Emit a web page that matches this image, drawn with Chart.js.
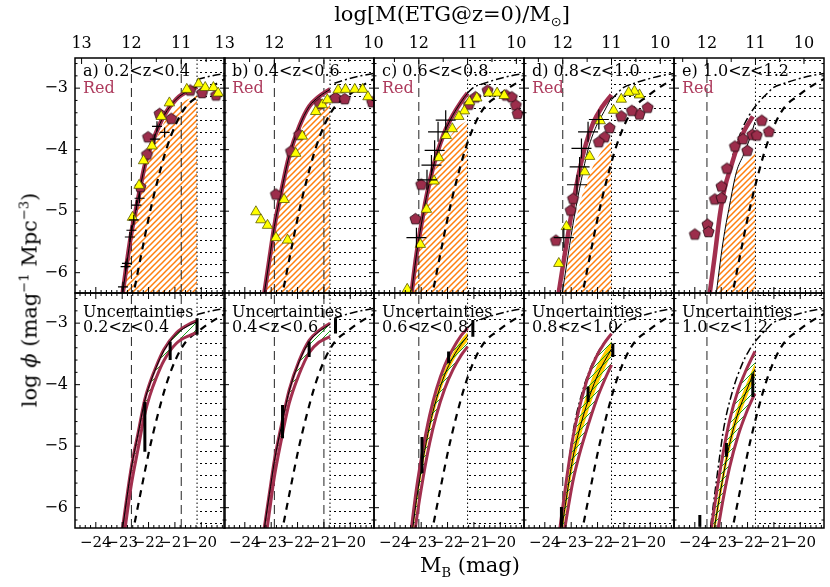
<!DOCTYPE html>
<html>
<head>
<meta charset="utf-8">
<script src="https://cdn.jsdelivr.net/npm/chart.js@4.4.1/dist/chart.umd.min.js"></script>
<style>
  body { margin: 0; background: #fff; width: 830px; height: 587px; position: relative; overflow: hidden; font-family: "DejaVu Serif", serif; }
  canvas { position: absolute; }
  .t { position: absolute; white-space: nowrap; color: #000; line-height: 1; font-family: "DejaVu Serif", serif; }
</style>
</head>
<body>
<script>
// ---- data (M_B in mag, log phi) ----
const magTicks = [-24, -23, -22, -21, -20];
const phiTicks = [-3, -4, -5, -6];
const massTicks = [13, 12, 11, 10];
const letters = ['a)', 'b)', 'c)', 'd)', 'e)'];
const zLabels = ['0.2<z<0.4', '0.4<z<0.6', '0.6<z<0.8', '0.8<z<1.0', '1.0<z<1.2'];

// M_B where log M(ETG@z=0) = 12 and 11, and start of the incomplete (dotted) zone
const m12 = [-22.65, -22.88, -23.09, -23.32, -23.54];
const m11 = [-20.76, -21.00, -21.24, -21.47, -21.70];
const cut = [-20.16, -20.77, -21.24, -21.47, -21.70];

// local reference LF (thick short dashes) and bright reference (dash-dot), same in every panel
const localX = [-22.62, -22.27, -21.96, -21.65, -21.33, -20.95, -20.58, -20.14, -19.70, -19.10];
const localY = [-6.45, -5.69, -5.04, -4.49, -4.00, -3.57, -3.30, -3.14, -3.00, -2.85];
const brightX = [-23.40, -23.10, -22.90, -22.56, -22.19, -21.95, -21.73, -21.47, -21.24, -21.05, -20.60, -20.16, -19.60, -19.10];
const brightY = [-6.30, -5.30, -4.70, -4.09, -3.65, -3.45, -3.31, -3.18, -3.08, -3.00, -2.92, -2.86, -2.80, -2.76];
const brightFromTop = [-20.16, -20.77, -21.24, -21.47, -22.70];
const brightFromBot = [-20.16, -20.77, -21.24, -24.80, -24.80];

// red-sequence fit (thick maroon)
const fitX = [
  [-23.02, -22.65, -22.40, -22.15, -21.96, -21.71, -21.42, -20.95, -20.39, -20.16],
  [-23.30, -23.07, -22.88, -22.63, -22.32, -21.94, -21.56, -21.19, -20.77],
  [-23.40, -23.18, -22.93, -22.68, -22.42, -22.11, -21.80, -21.48, -21.24],
  [-23.52, -23.24, -22.99, -22.74, -22.45, -22.15, -21.85, -21.47],
  [-23.47, -23.24, -23.05, -22.87, -22.61, -22.36, -22.11, -21.80]
];
const fitY = [
  [-6.45, -5.35, -4.81, -4.27, -4.00, -3.72, -3.45, -3.18, -3.02, -2.98],
  [-6.45, -5.79, -5.25, -4.71, -4.11, -3.63, -3.30, -3.14, -3.02],
  [-6.45, -5.71, -5.06, -4.52, -4.09, -3.71, -3.44, -3.22, -3.08],
  [-6.45, -5.69, -5.04, -4.45, -3.92, -3.55, -3.32, -3.11],
  [-6.45, -5.71, -5.06, -4.63, -4.25, -3.92, -3.68, -3.46]
];
// thin black model line
const thinX = [fitX[0], fitX[1], fitX[2],
  [-23.38, -23.12, -22.88, -22.62, -22.35, -22.05, -21.75, -21.47],
  [-23.22, -22.93, -22.68, -22.42, -22.15, -21.90, -21.72]];
const thinY = [fitY[0], fitY[1], fitY[2],
  [-6.45, -5.72, -5.08, -4.50, -3.98, -3.62, -3.38, -3.15],
  [-6.45, -5.50, -4.90, -4.36, -4.08, -3.80, -3.55]];
// top of the orange hatched area
const hatchX = [
  [-22.98, -22.61, -22.36, -22.11, -21.92, -21.67, -21.38, -20.91, -20.40, -20.16],
  [-23.26, -23.03, -22.84, -22.59, -22.28, -21.90, -21.50, -21.10, -20.77],
  [-23.36, -23.12, -22.88, -22.62, -22.35, -22.00, -21.65, -21.24],
  [-23.36, -22.93, -22.48, -21.97, -21.47],
  [-23.22, -22.93, -22.68, -22.42, -22.10, -21.70]
];
const hatchY = [
  [-6.45, -5.38, -4.85, -4.32, -4.06, -3.79, -3.54, -3.28, -3.16, -3.12],
  [-6.45, -5.80, -5.28, -4.76, -4.18, -3.72, -3.42, -3.25, -3.17],
  [-6.45, -5.70, -5.06, -4.55, -4.15, -3.85, -3.65, -3.52],
  [-6.45, -5.36, -4.60, -4.11, -3.84],
  [-6.45, -5.50, -4.90, -4.36, -4.20, -4.05]
];

// yellow triangles
const triX = [
  [-20.10, -19.85, -19.54, -19.36, -20.55, -21.21, -21.52, -21.87, -22.19, -22.36, -22.61],
  [-23.58, -23.39, -23.14, -22.82, -22.38, -22.51, -22.07, -21.82, -21.31, -21.06, -20.87, -20.46, -20.18, -19.83, -19.53, -19.33],
  [-20.44, -20.12, -19.85, -20.89, -21.17, -21.36, -21.57, -21.82, -22.05, -22.33, -22.51, -22.80, -23.03, -23.53],
  [-20.41, -20.60, -20.82, -21.10, -21.39, -21.90, -22.30, -22.49, -23.18, -23.47],
  []
];
const triY = [
  [-2.93, -2.99, -2.99, -3.08, -3.02, -3.24, -3.46, -3.94, -4.18, -4.58, -5.10],
  [-5.01, -5.14, -5.23, -5.43, -5.47, -4.81, -4.06, -3.78, -3.38, -3.27, -3.19, -3.03, -3.02, -3.02, -3.02, -3.14],
  [-3.08, -3.08, -3.12, -3.16, -3.22, -3.37, -3.46, -3.66, -3.77, -4.13, -4.51, -4.97, -5.54, -6.27],
  [-3.11, -3.05, -3.07, -3.18, -3.36, -3.53, -4.11, -4.36, -5.25, -5.85],
  []
];
// maroon pentagons
const penX = [
  [-21.58, -21.14, -22.02, -22.06, -22.31, -19.44, -19.97, -20.42],
  [-22.82, -22.25, -21.94, -21.16, -20.56, -20.21, -19.17],
  [-20.48, -19.78, -19.56, -19.41, -19.34, -20.94, -21.19, -23.00, -23.22],
  [-20.10, -20.41, -20.70, -21.10, -21.54, -21.73, -21.95, -22.93, -23.02, -23.58],
  [-24.00, -23.52, -23.48, -23.24, -22.99, -22.99, -22.78, -22.48, -22.17, -22.01, -21.82, -21.65, -21.46, -21.19]
];
const penY = [
  [-3.41, -3.49, -3.79, -4.07, -4.60, -3.11, -3.07, -3.03],
  [-4.72, -4.02, -3.75, -3.25, -3.15, -3.17, -3.22],
  [-3.03, -3.11, -3.14, -3.27, -3.41, -3.14, -3.26, -4.56, -5.12],
  [-3.31, -3.42, -3.36, -3.45, -3.64, -3.79, -3.87, -4.79, -4.98, -5.47],
  [-5.37, -5.21, -5.33, -4.80, -4.78, -4.59, -4.30, -3.94, -3.82, -4.01, -3.75, -3.76, -3.52, -3.70]
];
// black crosses
const crsX = [
  [-21.68, -21.39, -21.76, -22.34, -22.46, -22.56, -22.65, -22.71, -22.82, -22.87, -22.97],
  [],
  [-22.07, -22.36, -22.49, -22.61, -22.78, -23.18],
  [-21.95, -22.36, -22.61, -22.68, -22.78, -23.28],
  []
];
const crsY = [
  [-3.62, -3.72, -3.83, -4.79, -4.90, -5.14, -5.31, -5.42, -5.85, -5.90, -6.23],
  [],
  [-3.52, -3.71, -4.01, -4.25, -4.49, -5.43],
  [-3.51, -3.71, -3.98, -4.28, -4.57, -5.43],
  []
];

// uncertainty panels: envelope (maroon), best fit (black), yellow core
const bandX = [
  [-23.02, -22.65, -22.40, -22.15, -21.96, -21.71, -21.42, -20.95, -20.39, -20.16],
  [-23.30, -23.07, -22.88, -22.63, -22.32, -21.94, -21.56, -21.19, -20.77],
  [-23.40, -23.18, -22.93, -22.68, -22.42, -22.11, -21.80, -21.48, -21.24],
  [-23.45, -23.18, -22.93, -22.68, -22.36, -22.05, -21.75, -21.47],
  [-23.45, -23.18, -22.93, -22.68, -22.36, -22.05, -21.72]
];
const upY = [
  [-6.43, -5.33, -4.79, -4.25, -3.98, -3.70, -3.43, -3.16, -3.00, -2.96],
  [-6.43, -5.77, -5.23, -4.69, -4.09, -3.61, -3.28, -3.12, -3.00],
  [-6.43, -5.69, -5.04, -4.50, -4.07, -3.69, -3.42, -3.20, -3.08],
  [-6.40, -5.55, -4.85, -4.36, -3.87, -3.55, -3.33, -3.17],
  [-6.55, -5.77, -5.12, -4.58, -4.09, -3.76, -3.46]
];
const loY = [
  [-6.75, -5.62, -5.05, -4.49, -4.19, -3.89, -3.61, -3.33, -3.19, -3.15],
  [-6.80, -6.08, -5.50, -4.93, -4.31, -3.83, -3.48, -3.31, -3.22],
  [-6.95, -6.20, -5.52, -4.95, -4.49, -4.07, -3.76, -3.52, -3.38],
  [-6.90, -6.17, -5.56, -5.12, -4.66, -4.26, -3.94, -3.68],
  [-7.20, -6.50, -5.87, -5.34, -4.83, -4.46, -4.14]
];
const midY = [
  [-6.45, -5.35, -4.81, -4.27, -4.00, -3.72, -3.45, -3.18, -3.02, -2.98],
  [-6.45, -5.79, -5.25, -4.71, -4.11, -3.63, -3.30, -3.14, -3.02],
  [-6.60, -5.88, -5.22, -4.67, -4.23, -3.84, -3.56, -3.34, -3.21],
  [-6.62, -5.84, -5.18, -4.72, -4.26, -3.90, -3.63, -3.42],
  [-6.85, -6.12, -5.50, -4.96, -4.46, -4.11, -3.75]
];
const yelHiY = [
  [], [],
  [-6.50, -5.78, -5.12, -4.57, -4.14, -3.76, -3.49, -3.27, -3.15],
  [-6.50, -5.70, -5.02, -4.55, -4.08, -3.72, -3.47, -3.29],
  [-6.75, -6.00, -5.38, -4.84, -4.34, -3.99, -3.65]
];
const yelLoY = [
  [], [],
  [-6.70, -5.98, -5.32, -4.76, -4.32, -3.92, -3.63, -3.42, -3.29],
  [-6.75, -5.98, -5.34, -4.90, -4.44, -4.06, -3.76, -3.50],
  [-6.95, -6.25, -5.62, -5.08, -4.58, -4.23, -3.86]
];
// thick black error segments
const ebX = [[-22.14, -21.18, -20.16], [-22.57, -21.56, -20.56], [-22.97, -21.96, -21.04], [-23.37, -22.36, -21.42], [-23.81, -22.80, -21.80]];
const ebLo = [[-5.09, -3.60, -3.19], [-4.87, -3.55, -3.17], [-5.44, -3.65, -3.22], [-6.31, -4.28, -3.55], [-6.31, -5.17, -4.20]];
const ebHi = [[-4.28, -3.30, -2.92], [-4.33, -3.30, -2.92], [-4.85, -3.46, -2.95], [-5.99, -4.03, -3.33], [-6.12, -4.95, -3.82]];

// ---- layout ----
const M = 40, PW = 150, PH = 235;
const panelLeft = [75, 224, 374, 524, 674];
const rowTop = [58, 293];
const xMin = -24.79, xMax = -19.1, yMin = -6.33, yMax = -2.51;
const maroon = '#a22f4e';
const crsR = [5, 5, 10, 10, 10];
const serif = "'DejaVu Serif', serif";

Chart.defaults.font.family = serif;
Chart.defaults.color = '#000';

function P(xs, ys) { return xs.map((x, i) => ({ x: x, y: ys[i] })); }
function vline(x) { return [{ x: x, y: yMin }, { x: x, y: yMax }]; }
const fmt = v => (v < 0 ? '\u2212' : '') + Math.abs(v);

function hatch(color, gap, lw) {
  const c = document.createElement('canvas');
  c.width = c.height = gap;
  const g = c.getContext('2d');
  g.strokeStyle = color; g.lineWidth = lw;
  g.beginPath();
  g.moveTo(0, gap); g.lineTo(gap, 0);
  g.moveTo(-2, 2); g.lineTo(2, -2);
  g.moveTo(gap - 2, gap + 2); g.lineTo(gap + 2, gap - 2);
  g.stroke();
  return g.createPattern(c, 'repeat');
}
function dots() {
  const c = document.createElement('canvas');
  c.width = 5; c.height = 12;
  const g = c.getContext('2d');
  g.fillStyle = '#000';
  g.fillRect(0, 6, 2, 1);
  return g.createPattern(c, 'repeat');
}
function pentagon(fill, r) {
  const c = document.createElement('canvas');
  const s = Math.ceil(2 * r + 3);
  c.width = c.height = s;
  const g = c.getContext('2d');
  g.beginPath();
  for (let k = 0; k < 5; k++) {
    const a = -Math.PI / 2 + k * 2 * Math.PI / 5;
    const px = s / 2 + r * Math.cos(a), py = s / 2 + 0.6 + r * Math.sin(a);
    if (k) g.lineTo(px, py); else g.moveTo(px, py);
  }
  g.closePath();
  g.fillStyle = fill; g.fill();
  g.lineWidth = 0.9; g.strokeStyle = '#2b0a14'; g.stroke();
  return c;
}
const orange = hatch('#ff7f0e', 6, 1.5);
const green = hatch('#17a01a', 7, 1);
const dotted = dots();
const pent = pentagon('#9c2d4b', 5.8);

function curve(xs, ys, color, w, order, dash) {
  return { data: P(xs, ys), borderColor: color, borderWidth: w, borderDash: dash || [],
    cubicInterpolationMode: 'monotone', fill: false, order: order, pointRadius: 0 };
}

// frame with inward ticks, like the original plot
const frameTicks = {
  id: 'frameTicks',
  afterDatasetsDraw(chart, args, o) {
    const ctx = chart.ctx, a = chart.chartArea;
    const sx = chart.scales.x, sy = chart.scales.y;
    ctx.save();
    ctx.strokeStyle = '#000';
    ctx.lineWidth = 1;
    ctx.beginPath();
    for (let k = Math.ceil(sx.min * 5); k <= Math.floor(sx.max * 5); k++) {
      const px = sx.getPixelForValue(k / 5), len = (k % 5 === 0) ? 6 : 3;
      ctx.moveTo(px, a.bottom); ctx.lineTo(px, a.bottom - len);
      if (!o.mass) { ctx.moveTo(px, a.top); ctx.lineTo(px, a.top + len); }
    }
    if (o.mass) {
      for (let k = 19; k <= 27; k++) {
        const v = o.m12 + (12 - k / 2) * (o.m11 - o.m12);
        if (v < sx.min || v > sx.max) continue;
        const px = sx.getPixelForValue(v), len = (k % 2 === 0) ? 6 : 4;
        ctx.moveTo(px, a.top); ctx.lineTo(px, a.top + len);
      }
    }
    for (let k = Math.ceil(sy.min * 5); k <= Math.floor(sy.max * 5); k++) {
      const py = sy.getPixelForValue(k / 5), len = (k % 5 === 0) ? 5 : 2.5;
      ctx.moveTo(a.left, py); ctx.lineTo(a.left + len, py);
      ctx.moveTo(a.right, py); ctx.lineTo(a.right - len, py);
    }
    ctx.stroke();
    ctx.lineWidth = 1.5;
    ctx.strokeRect(a.left, a.top, a.width, a.height);
    ctx.restore();
  }
};

function commonLines(ds, row, p) {
  ds.push(curve(localX, localY, '#000', 2.2, 5, [7, 6]));
  const from = row === 0 ? brightFromTop[p] : brightFromBot[p];
  const bp = P(brightX, brightY).filter(pt => pt.x >= from);
  ds.push({ data: bp, borderColor: '#000', borderWidth: 1.5, borderDash: [8, 3, 2, 3],
    cubicInterpolationMode: 'monotone', pointRadius: 0, order: 5 });
  ds.push({ data: vline(m12[p]), borderColor: '#222', borderWidth: 1, borderDash: [9, 5], pointRadius: 0, order: 6 });
  if (m11[p] !== cut[p]) {
    ds.push({ data: vline(m11[p]), borderColor: '#222', borderWidth: 1, borderDash: [9, 5], pointRadius: 0, order: 6 });
  }
  ds.push({ data: vline(cut[p]), borderColor: '#000', borderWidth: 1, borderDash: [1.5, 2.5], pointRadius: 0, order: 6 });
  ds.push({ data: [{ x: cut[p], y: yMax }, { x: xMax, y: yMax }], fill: 'start', backgroundColor: dotted,
    borderWidth: 0, pointRadius: 0, order: 9 });
}

function makeChart(row, p) {
  const cv = document.createElement('canvas');
  const W = PW + 2 * M, H = PH + 2 * M;
  cv.width = W; cv.height = H;
  cv.style.left = (panelLeft[p] - M) + 'px';
  cv.style.top = (rowTop[row] - M) + 'px';
  cv.style.width = W + 'px'; cv.style.height = H + 'px';
  document.body.appendChild(cv);

  const ds = [];
  if (row === 0) {
    ds.push({ data: P(crsX[p], crsY[p]), showLine: false, pointStyle: 'cross', pointRadius: crsR[p],
      borderColor: '#000', borderWidth: 1.2, order: 0 });
    ds.push({ data: P(triX[p], triY[p]), showLine: false, pointStyle: 'triangle', pointRadius: 6,
      backgroundColor: '#ffff00', borderColor: '#5a5a00', borderWidth: 0.8, order: 1 });
    ds.push({ data: P(penX[p], penY[p]), showLine: false, pointStyle: pent, pointRadius: 6, order: 2 });
    ds.push(curve(thinX[p], thinY[p], '#000', 1, 3));
    ds.push(curve(fitX[p], fitY[p], maroon, 4.5, 4));
    ds.push(Object.assign(curve(hatchX[p], hatchY[p], 'rgba(0,0,0,0)', 0, 8), { fill: 'start', backgroundColor: orange }));
  } else {
    const seg = [];
    ebX[p].forEach((x, i) => { seg.push({ x: x, y: ebLo[p][i] }, { x: x, y: ebHi[p][i] }, { x: x, y: null }); });
    ds.push({ data: seg, borderColor: '#000', borderWidth: 3, pointRadius: 0, spanGaps: false, order: 0 });
    ds.push(curve(bandX[p], midY[p], '#000', 1, 2));
    ds.push(curve(bandX[p], upY[p], maroon, 3, 3));
    ds.push(curve(bandX[p], loY[p], maroon, 3, 3));
    ds.push(Object.assign(curve(bandX[p], upY[p], 'rgba(0,0,0,0)', 0, 6), { fill: '+1', backgroundColor: green }));
    ds.push(curve(bandX[p], loY[p], 'rgba(0,0,0,0)', 0, 6));
    if (yelHiY[p].length) {
      ds.push(Object.assign(curve(bandX[p], yelHiY[p], 'rgba(0,0,0,0)', 0, 7), { fill: '+1', backgroundColor: '#ffcc00' }));
      ds.push(curve(bandX[p], yelLoY[p], 'rgba(0,0,0,0)', 0, 7));
    }
  }
  commonLines(ds, row, p);

  new Chart(cv, {
    type: 'line',
    data: { datasets: ds },
    options: {
      responsive: false, animation: false, devicePixelRatio: 1,
      layout: { padding: { left: 0, right: M, top: 0, bottom: 0 } },
      plugins: { legend: { display: false }, tooltip: { enabled: false },
        frameTicks: { mass: row === 0, m12: m12[p], m11: m11[p] } },
      elements: { point: { radius: 0 }, line: { tension: 0 } },
      scales: {
        x: {
          type: 'linear', position: 'bottom', min: xMin, max: xMax,
          grid: { display: false, drawTicks: false }, border: { display: false },
          afterBuildTicks: s => { s.ticks = magTicks.map(v => ({ value: v })); },
          afterFit: s => { s.height = M; },
          ticks: { display: row === 1, padding: 6, autoSkip: false, maxRotation: 0,
            font: { family: serif, size: 15 }, callback: v => fmt(v) }
        },
        xt: {
          type: 'linear', position: 'top', min: xMin, max: xMax,
          grid: { display: false, drawTicks: false }, border: { display: false },
          afterBuildTicks: s => {
            s.ticks = massTicks.map(m => ({ value: m12[p] + (12 - m) * (m11[p] - m12[p]), mass: m }))
              .filter(t => t.value >= xMin && t.value <= xMax);
          },
          afterFit: s => { s.height = M; },
          ticks: { display: row === 0, padding: 5, autoSkip: false, maxRotation: 0,
            font: { family: serif, size: 16 }, callback: (v, i, ticks) => String(ticks[i].mass) }
        },
        y: {
          type: 'linear', position: 'left', min: yMin, max: yMax,
          grid: { display: false, drawTicks: false }, border: { display: false },
          afterBuildTicks: s => { s.ticks = phiTicks.map(v => ({ value: v })); },
          afterFit: s => { s.width = M; },
          ticks: { display: p === 0, padding: 7, autoSkip: false,
            font: { family: serif, size: 16 }, callback: v => fmt(v) }
        }
      }
    },
    plugins: [frameTicks]
  });
}

for (let row = 0; row < 2; row++) {
  for (let p = 0; p < 5; p++) makeChart(row, p);
}

// ---- text ----
function label(html, left, top, style) {
  const d = document.createElement('div');
  d.className = 't';
  d.innerHTML = html;
  d.style.left = left + 'px';
  d.style.top = top + 'px';
  if (style) d.style.cssText += style;
  document.body.appendChild(d);
  return d;
}
const esc = s => s.replace(/</g, '&lt;');
for (let p = 0; p < 5; p++) {
  label(letters[p] + ' ' + esc(zLabels[p]), panelLeft[p] + 8, 63, 'font-size:16px;');
  label('Red', panelLeft[p] + 8, 80, 'font-size:16px;color:#ad3a5c;');
  label('Uncertainties', panelLeft[p] + 8, 304, 'font-size:16px;');
  label(esc(zLabels[p]), panelLeft[p] + 8, 319, 'font-size:16px;');
}
label('log[M(ETG@z=0)/M<sub style="font-size:13px;font-family:\'DejaVu Sans\'">\u2299</sub>]', 452, 16,
  'font-size:21px;transform:translate(-50%,-50%);');
label('log <i>\u03d5</i> (mag<sup style="font-size:13px">\u22121</sup> Mpc<sup style="font-size:13px">\u22123</sup>)', 29, 300,
  'font-size:21px;transform:translate(-50%,-50%) rotate(-90deg);');
label('M<sub style="font-size:13px">B</sub> (mag)', 470, 567, 'font-size:21px;transform:translate(-50%,-50%);');
</script>
</body>
</html>
